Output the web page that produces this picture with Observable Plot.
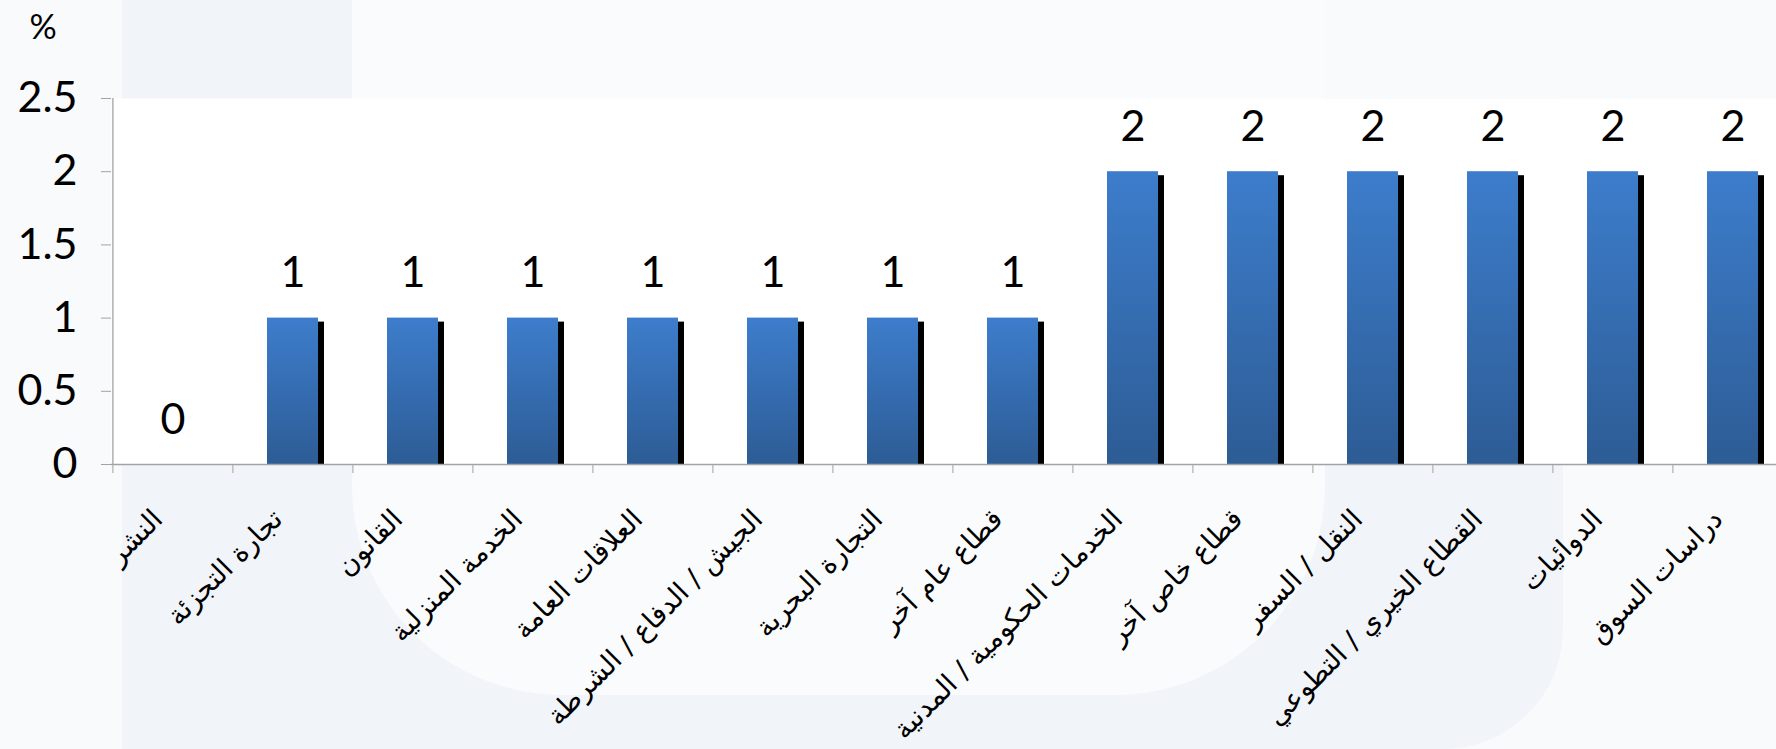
<!DOCTYPE html>
<html>
<head>
<meta charset="utf-8">
<script src="https://cdn.jsdelivr.net/npm/d3@7"></script>
<script src="https://cdn.jsdelivr.net/npm/@observablehq/plot@0.6"></script>
<style>
  html, body { margin: 0; padding: 0; overflow: hidden; background: #f9fafc; }
  #wrap { position: relative; width: 1776px; height: 749px; overflow: hidden; }
  .bg { position: absolute; }
  #chart { position: absolute; left: 0; top: 0; }
</style>
</head>
<body>
<div id="wrap">
  <div class="bg" style="left:122px;top:0;width:1441px;height:749px;background:#f1f4f9;border-bottom-right-radius:120px;"></div>
  <div class="bg" style="left:352px;top:-200px;width:973px;height:895px;background:#fafbfd;border-radius:0 0 210px 210px;"></div>
  <div class="bg" style="left:1325px;top:0;width:451px;height:98px;background:#f9fafc;"></div>
  <div id="chart"></div>
</div>
<script>
const categories = ["النشر", "تجارة التجزئة", "القانون", "الخدمة المنزلية", "العلاقات العامة", "الجيش / الدفاع / الشرطة", "التجارة البحرية", "قطاع عام آخر", "الخدمات الحكومية / المدنية", "قطاع خاص آخر", "النقل / السفر", "القطاع الخيري / التطوعي", "الدوائيات", "دراسات السوق"];
const values = [0, 1, 1, 1, 1, 1, 1, 1, 2, 2, 2, 2, 2, 2];
const yTicks = [0, 0.5, 1, 1.5, 2, 2.5];
const yUnit = "%";

const data = categories.map((c, i) => ({cat: c, value: values[i]}));

const W = 1776, H = 749;
const mL = 111, mR = -18, mT = 98, mB = 285;
const step = (W - mL - mR) / categories.length;
const gray = "#a3a3a3";

const plot = Plot.plot({
  width: W,
  height: H,
  marginLeft: mL,
  marginRight: mR,
  marginTop: mT,
  marginBottom: mB,
  style: {background: "transparent", fontFamily: "Lato", color: "black", overflow: "hidden"},
  x: {domain: categories, paddingInner: 0.575, paddingOuter: 0.2875, label: null},
  y: {domain: [0, 2.5], label: null},
  marks: [
    Plot.frame({fill: "white", stroke: null}),
    Plot.barY(data.filter(d => d.value > 0), {x: "cat", y: "value", fill: "black", dx: 6, insetTop: 4}),
    Plot.barY(data.filter(d => d.value > 0), {x: "cat", y: "value", fill: "url(#barGrad)"}),
    Plot.ruleY([0], {stroke: gray, strokeWidth: 1.5}),
    Plot.ruleX([categories[0]], {dx: -step / 2, y1: 0, y2: 2.5, stroke: gray, strokeWidth: 1.3}),
    Plot.axisY({ticks: yTicks, tickSize: 10, tickPadding: 24, fontSize: 43, fontFamily: "Lato", tickFormat: d => String(d), stroke: gray, label: null}),
    Plot.axisX({tickSize: 9, dx: -step / 2, tickFormat: () => "", stroke: gray, label: null}),
    Plot.axisX({tickSize: 0, tickPadding: 50, tickRotate: -45, fontSize: 27.5, fontFamily: "DejaVu Sans", dx: -15, label: null}),
    Plot.text(data, {x: "cat", y: "value", text: d => String(d.value), dy: -31, lineAnchor: "bottom", fontSize: 43, fontFamily: "Lato"}),
    Plot.text([yUnit], {frameAnchor: "top-left", dx: -82, dy: -84, fontSize: 34, fontFamily: "Lato"})
  ]
});

const ns = "http://www.w3.org/2000/svg";
const defs = document.createElementNS(ns, "defs");
const grad = document.createElementNS(ns, "linearGradient");
grad.setAttribute("id", "barGrad");
grad.setAttribute("x1", "0"); grad.setAttribute("y1", "0");
grad.setAttribute("x2", "0"); grad.setAttribute("y2", "1");
[["0", "#3d7dcc"], ["1", "#2d5c95"]].forEach(([o, c]) => {
  const s = document.createElementNS(ns, "stop");
  s.setAttribute("offset", o);
  s.setAttribute("stop-color", c);
  grad.appendChild(s);
});
defs.appendChild(grad);
plot.insertBefore(defs, plot.firstChild);

document.getElementById("chart").appendChild(plot);
</script>
</body>
</html>
